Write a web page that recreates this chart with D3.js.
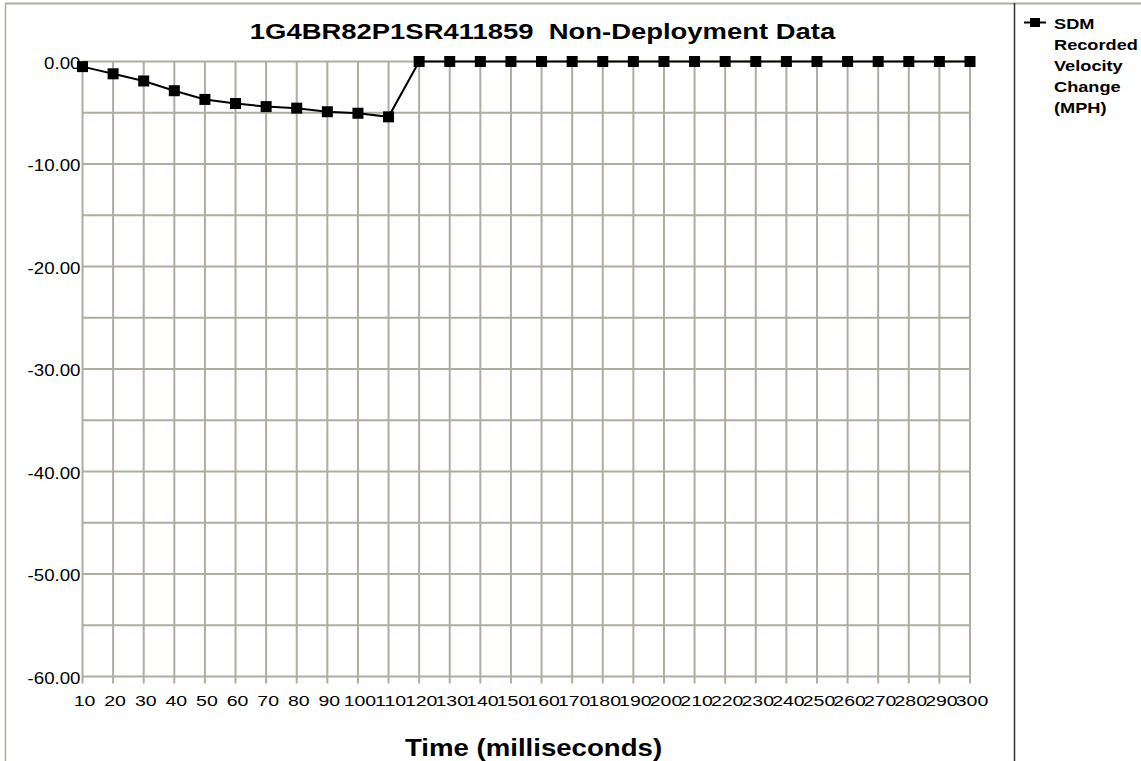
<!DOCTYPE html>
<html>
<head>
<meta charset="utf-8">
<script src="https://cdn.jsdelivr.net/npm/d3@7"></script>
<style>
  body { margin: 0; background: #fff; }
  svg { display: block; font-family: Arial, "Liberation Sans", sans-serif; }
</style>
</head>
<body>
<div id="chart"></div>
<script>
// Dados
const times = [10, 20, 30, 40, 50, 60, 70, 80, 90, 100, 110, 120, 130, 140, 150,
  160, 170, 180, 190, 200, 210, 220, 230, 240, 250, 260, 270, 280, 290, 300];
const velocity = [-0.5, -1.2, -1.9, -2.85, -3.7, -4.1, -4.4, -4.55, -4.9, -5.05, -5.4,
  0, 0, 0, 0, 0, 0, 0, 0, 0, 0, 0, 0, 0, 0, 0, 0, 0, 0, 0];
const yTicks = [0, -10, -20, -30, -40, -50, -60];
const yGrid = [0, -5, -10, -15, -20, -25, -30, -35, -40, -45, -50, -55, -60];
const legendLines = ['SDM', 'Recorded', 'Velocity', 'Change', '(MPH)'];
const title = '1G4BR82P1SR411859  Non-Deployment Data';
const xTitle = 'Time (milliseconds)';

const width = 1141, height = 761;
const gridColor = '#b0ac9f';

const svg = d3.select('#chart').append('svg')
  .attr('width', width)
  .attr('height', height);

// Texto esticado na horizontal (o original é mais largo que o Arial normal)
function stretchedText(parent, x, y, str, size, sx, anchor, bold) {
  return parent.append('text')
    .attr('transform', `translate(${x},${y}) scale(${sx},1)`)
    .attr('text-anchor', anchor)
    .attr('font-size', size)
    .attr('font-weight', bold ? 'bold' : 'normal')
    .attr('xml:space', 'preserve')
    .style('white-space', 'pre')
    .text(str);
}

// Borda externa
svg.append('line').attr('x1', 5).attr('x2', width).attr('y1', 3.5).attr('y2', 3.5)
  .attr('stroke', gridColor).attr('stroke-width', 2);
svg.append('line').attr('x1', 5.5).attr('x2', 5.5).attr('y1', 3).attr('y2', height)
  .attr('stroke', gridColor).attr('stroke-width', 1.5);
svg.append('line').attr('x1', 1014.5).attr('x2', 1014.5).attr('y1', 3).attr('y2', height)
  .attr('stroke', '#333').attr('stroke-width', 1.5);

// Escalas
const x = d3.scalePoint().domain(times).range([82.5, 970]);
const y = d3.scaleLinear().domain([-60, 0]).range([676.5, 61.5]);

// Grade
const grid = svg.append('g');
grid.selectAll('.hgrid').data(yGrid).enter().append('line')
  .attr('x1', x(times[0])).attr('x2', x(times[times.length - 1]))
  .attr('y1', d => y(d)).attr('y2', d => y(d))
  .attr('stroke', gridColor).attr('stroke-width', 2);
grid.selectAll('.vgrid').data(times).enter().append('line')
  .attr('x1', d => x(d)).attr('x2', d => x(d))
  .attr('y1', y(0)).attr('y2', y(-60) + 7)
  .attr('stroke', gridColor).attr('stroke-width', 2);

// Eixo Y
const yAxis = svg.append('g');
yTicks.forEach(d => {
  stretchedText(yAxis, 80.5, y(d) + 7, d3.format('.2f')(d).replace('\u2212', '-'), 17, 1.1, 'end', false);
});

// Eixo X
const xAxis = svg.append('g');
times.forEach(d => {
  stretchedText(xAxis, x(d) + 2, 706, String(d), 15, 1.3, 'middle', false);
});

// Títulos
stretchedText(svg, 542.5, 39, title, 22, 1.247, 'middle', true);
stretchedText(svg, 533.5, 756, xTitle, 24, 1.15, 'middle', true);

// Série
const line = d3.line().x((d, i) => x(times[i])).y(d => y(d));
svg.append('path').datum(velocity)
  .attr('d', line)
  .attr('fill', 'none').attr('stroke', '#000').attr('stroke-width', 2);
svg.append('g').selectAll('rect').data(velocity).enter().append('rect')
  .attr('x', (d, i) => x(times[i]) - 5.5).attr('y', d => y(d) - 5.5)
  .attr('width', 11).attr('height', 11)
  .attr('fill', '#000');

// Legenda
const legend = svg.append('g');
legend.append('line').attr('x1', 1024).attr('x2', 1046).attr('y1', 22.5).attr('y2', 22.5)
  .attr('stroke', '#000').attr('stroke-width', 2);
legend.append('rect').attr('x', 1030).attr('y', 18).attr('width', 10).attr('height', 9)
  .attr('fill', '#000');
legendLines.forEach((str, i) => {
  stretchedText(legend, 1054, 29 + i * 21.1, str, 14, 1.3, 'start', true);
});
</script>
</body>
</html>
